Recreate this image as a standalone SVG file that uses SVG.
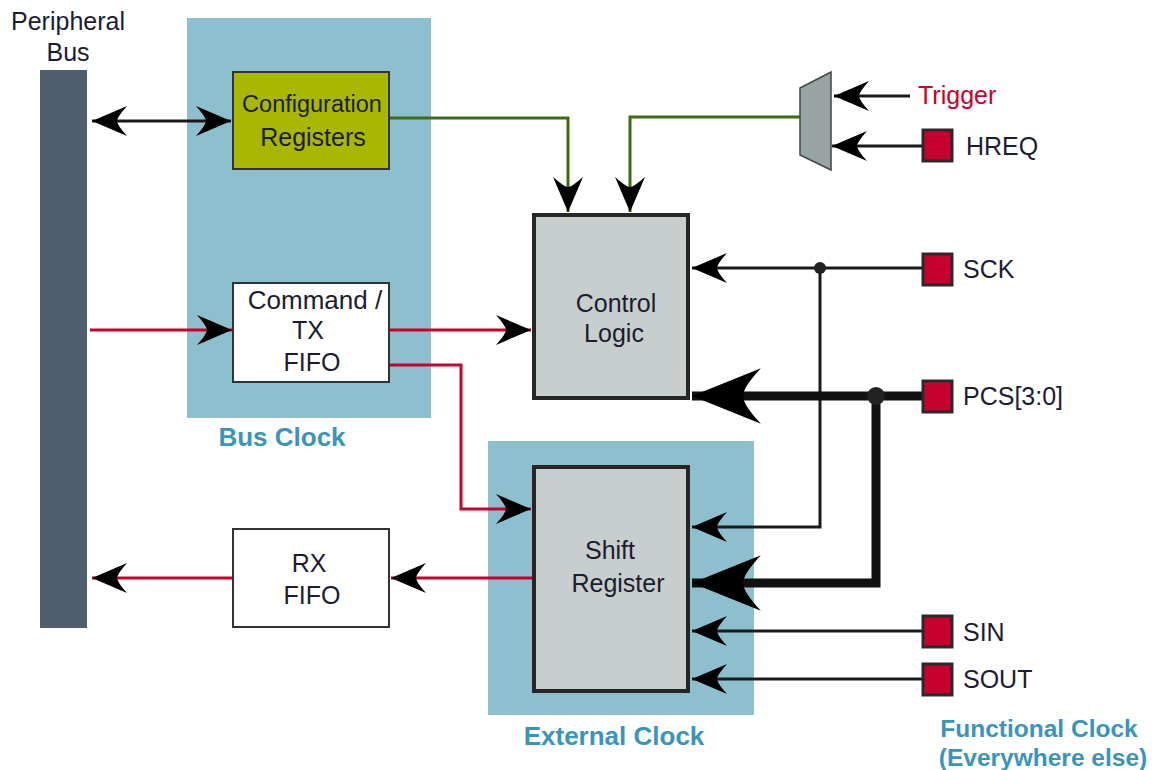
<svg xmlns="http://www.w3.org/2000/svg" width="1159" height="770" viewBox="0 0 1159 770">
<style>
.t{font-family:"Liberation Sans",Arial,sans-serif;font-size:25px;fill:#1c1c30;text-anchor:middle}
.l{font-family:"Liberation Sans",Arial,sans-serif;font-size:25px;fill:#1c1c30}
.clk{font-family:"Liberation Sans",Arial,sans-serif;font-size:26px;font-weight:bold;fill:#3a95b8;text-anchor:middle}
.blk{stroke:#1a1a1a;stroke-width:3;fill:none}
.red{stroke:#c8002d;stroke-width:3;fill:none}
.grn{stroke:#3f6b12;stroke-width:3;fill:none}
.thick{stroke:#111;stroke-width:9;fill:none}
.pin{fill:#c8002d;stroke:#2a2a2a;stroke-width:3}
.box{fill:#fff;stroke:#333;stroke-width:2}
.logic{fill:#c8cece;stroke:#262626;stroke-width:4}
.zone{fill:#8ebfcf}
</style>
<defs>
<marker id="ah" markerUnits="userSpaceOnUse" orient="auto-start-reverse" markerWidth="40" markerHeight="40" refX="0" refY="0" viewBox="-30 -15 32 30" overflow="visible">
<path d="M0,0 L-28,-12 Q-20,-3 -20,0 Q-20,3 -28,12 Z" fill="#000"/>
</marker>
<marker id="big" markerUnits="userSpaceOnUse" orient="auto" markerWidth="80" markerHeight="80" refX="0" refY="0" viewBox="-70 -30 72 60" overflow="visible">
<path d="M0,0 L-62,-25 Q-46,-8 -46,0 Q-46,8 -62,25 Z" fill="#000"/>
</marker>
</defs>

<g id="bus-clock-zone"><rect class="zone" x="187" y="18" width="244" height="400"/><text class="clk" x="282" y="446">Bus Clock</text></g>
<g id="external-clock-zone"><rect class="zone" x="488" y="441" width="266" height="274"/><text class="clk" x="614" y="745">External Clock</text></g>
<g id="functional-clock-label"><text class="clk" x="1039" y="737" style="font-size:24.5px">Functional Clock</text><text class="clk" x="1043" y="766" style="font-size:24.5px">(Everywhere else)</text></g>

<g id="connectors">
<line class="blk" x1="92" y1="121" x2="231" y2="121" marker-start="url(#ah)" marker-end="url(#ah)"/>
<line class="red" x1="90" y1="330" x2="232" y2="330" marker-end="url(#ah)"/>
<line class="red" x1="389" y1="330" x2="531" y2="330" marker-end="url(#ah)"/>
<polyline class="red" points="389,365 461,365 461,509 531,509" marker-end="url(#ah)"/>
<line class="red" x1="532" y1="578" x2="391" y2="578" marker-end="url(#ah)"/>
<line class="red" x1="233" y1="578" x2="92" y2="578" marker-end="url(#ah)"/>
<polyline class="grn" points="389,118 568,118 568,212" marker-end="url(#ah)"/>
<polyline class="grn" points="801,117 630,117 630,212" marker-end="url(#ah)"/>
<line class="blk" x1="910" y1="96" x2="834" y2="96" marker-end="url(#ah)"/>
<line class="blk" x1="922" y1="146" x2="832" y2="146" marker-end="url(#ah)"/>
<line class="blk" x1="922" y1="268" x2="692" y2="268" marker-end="url(#ah)"/>
<polyline class="blk" points="820,268 820,527 692,527" marker-end="url(#ah)"/>
<line class="thick" x1="922" y1="396" x2="692" y2="396" marker-end="url(#big)"/>
<polyline class="thick" points="876,396 876,583 692,583" marker-end="url(#big)"/>
<line class="blk" x1="922" y1="631" x2="692" y2="631" marker-end="url(#ah)"/>
<line class="blk" x1="922" y1="679" x2="692" y2="679" marker-end="url(#ah)"/>
<circle cx="820" cy="268" r="6" fill="#222"/>
<circle cx="876" cy="396" r="9" fill="#222"/>
</g>

<g id="peripheral-bus"><rect x="40" y="70" width="47" height="558" fill="#4e5e6e"/><text class="t" x="68" y="30">Peripheral</text><text class="t" x="68" y="61">Bus</text></g>
<g id="config-registers"><rect x="233" y="72" width="156" height="97" fill="#a8b800" stroke="#333" stroke-width="2"/><text class="t" x="312" y="112" style="font-size:23.5px">Configuration</text><text class="t" x="313" y="146">Registers</text></g>
<g id="command-tx-fifo"><rect class="box" x="233" y="283" width="156" height="99"/><text class="t" x="315" y="309" style="font-size:26px">Command /</text><text class="t" x="308" y="339">TX</text><text class="t" x="312" y="371">FIFO</text></g>
<g id="rx-fifo"><rect class="box" x="233" y="529" width="156" height="98"/><text class="t" x="309" y="572">RX</text><text class="t" x="312" y="604">FIFO</text></g>
<g id="control-logic"><rect class="logic" x="534" y="215" width="154" height="183"/><text class="t" x="616" y="312">Control</text><text class="t" x="614" y="342">Logic</text></g>
<g id="shift-register"><rect class="logic" x="534" y="467" width="154" height="224"/><text class="t" x="610" y="559">Shift</text><text class="t" x="618" y="592">Register</text></g>
<g id="mux"><polygon points="800,88 831,72 831,170 800,155" fill="#9aa3a3" stroke="#444" stroke-width="1.5"/></g>
<g id="trigger"><text class="l" x="918" y="104" style="fill:#c8002d">Trigger</text></g>
<g id="hreq"><rect class="pin" x="923" y="130" width="29" height="31"/><text class="l" x="966" y="155">HREQ</text></g>
<g id="sck"><rect class="pin" x="923" y="254" width="29" height="31"/><text class="l" x="963" y="278">SCK</text></g>
<g id="pcs"><rect class="pin" x="923" y="381" width="29" height="31"/><text class="l" x="963" y="405">PCS[3:0]</text></g>
<g id="sin"><rect class="pin" x="923" y="616" width="29" height="31"/><text class="l" x="963" y="641">SIN</text></g>
<g id="sout"><rect class="pin" x="923" y="664" width="29" height="31"/><text class="l" x="963" y="688">SOUT</text></g>
</svg>
